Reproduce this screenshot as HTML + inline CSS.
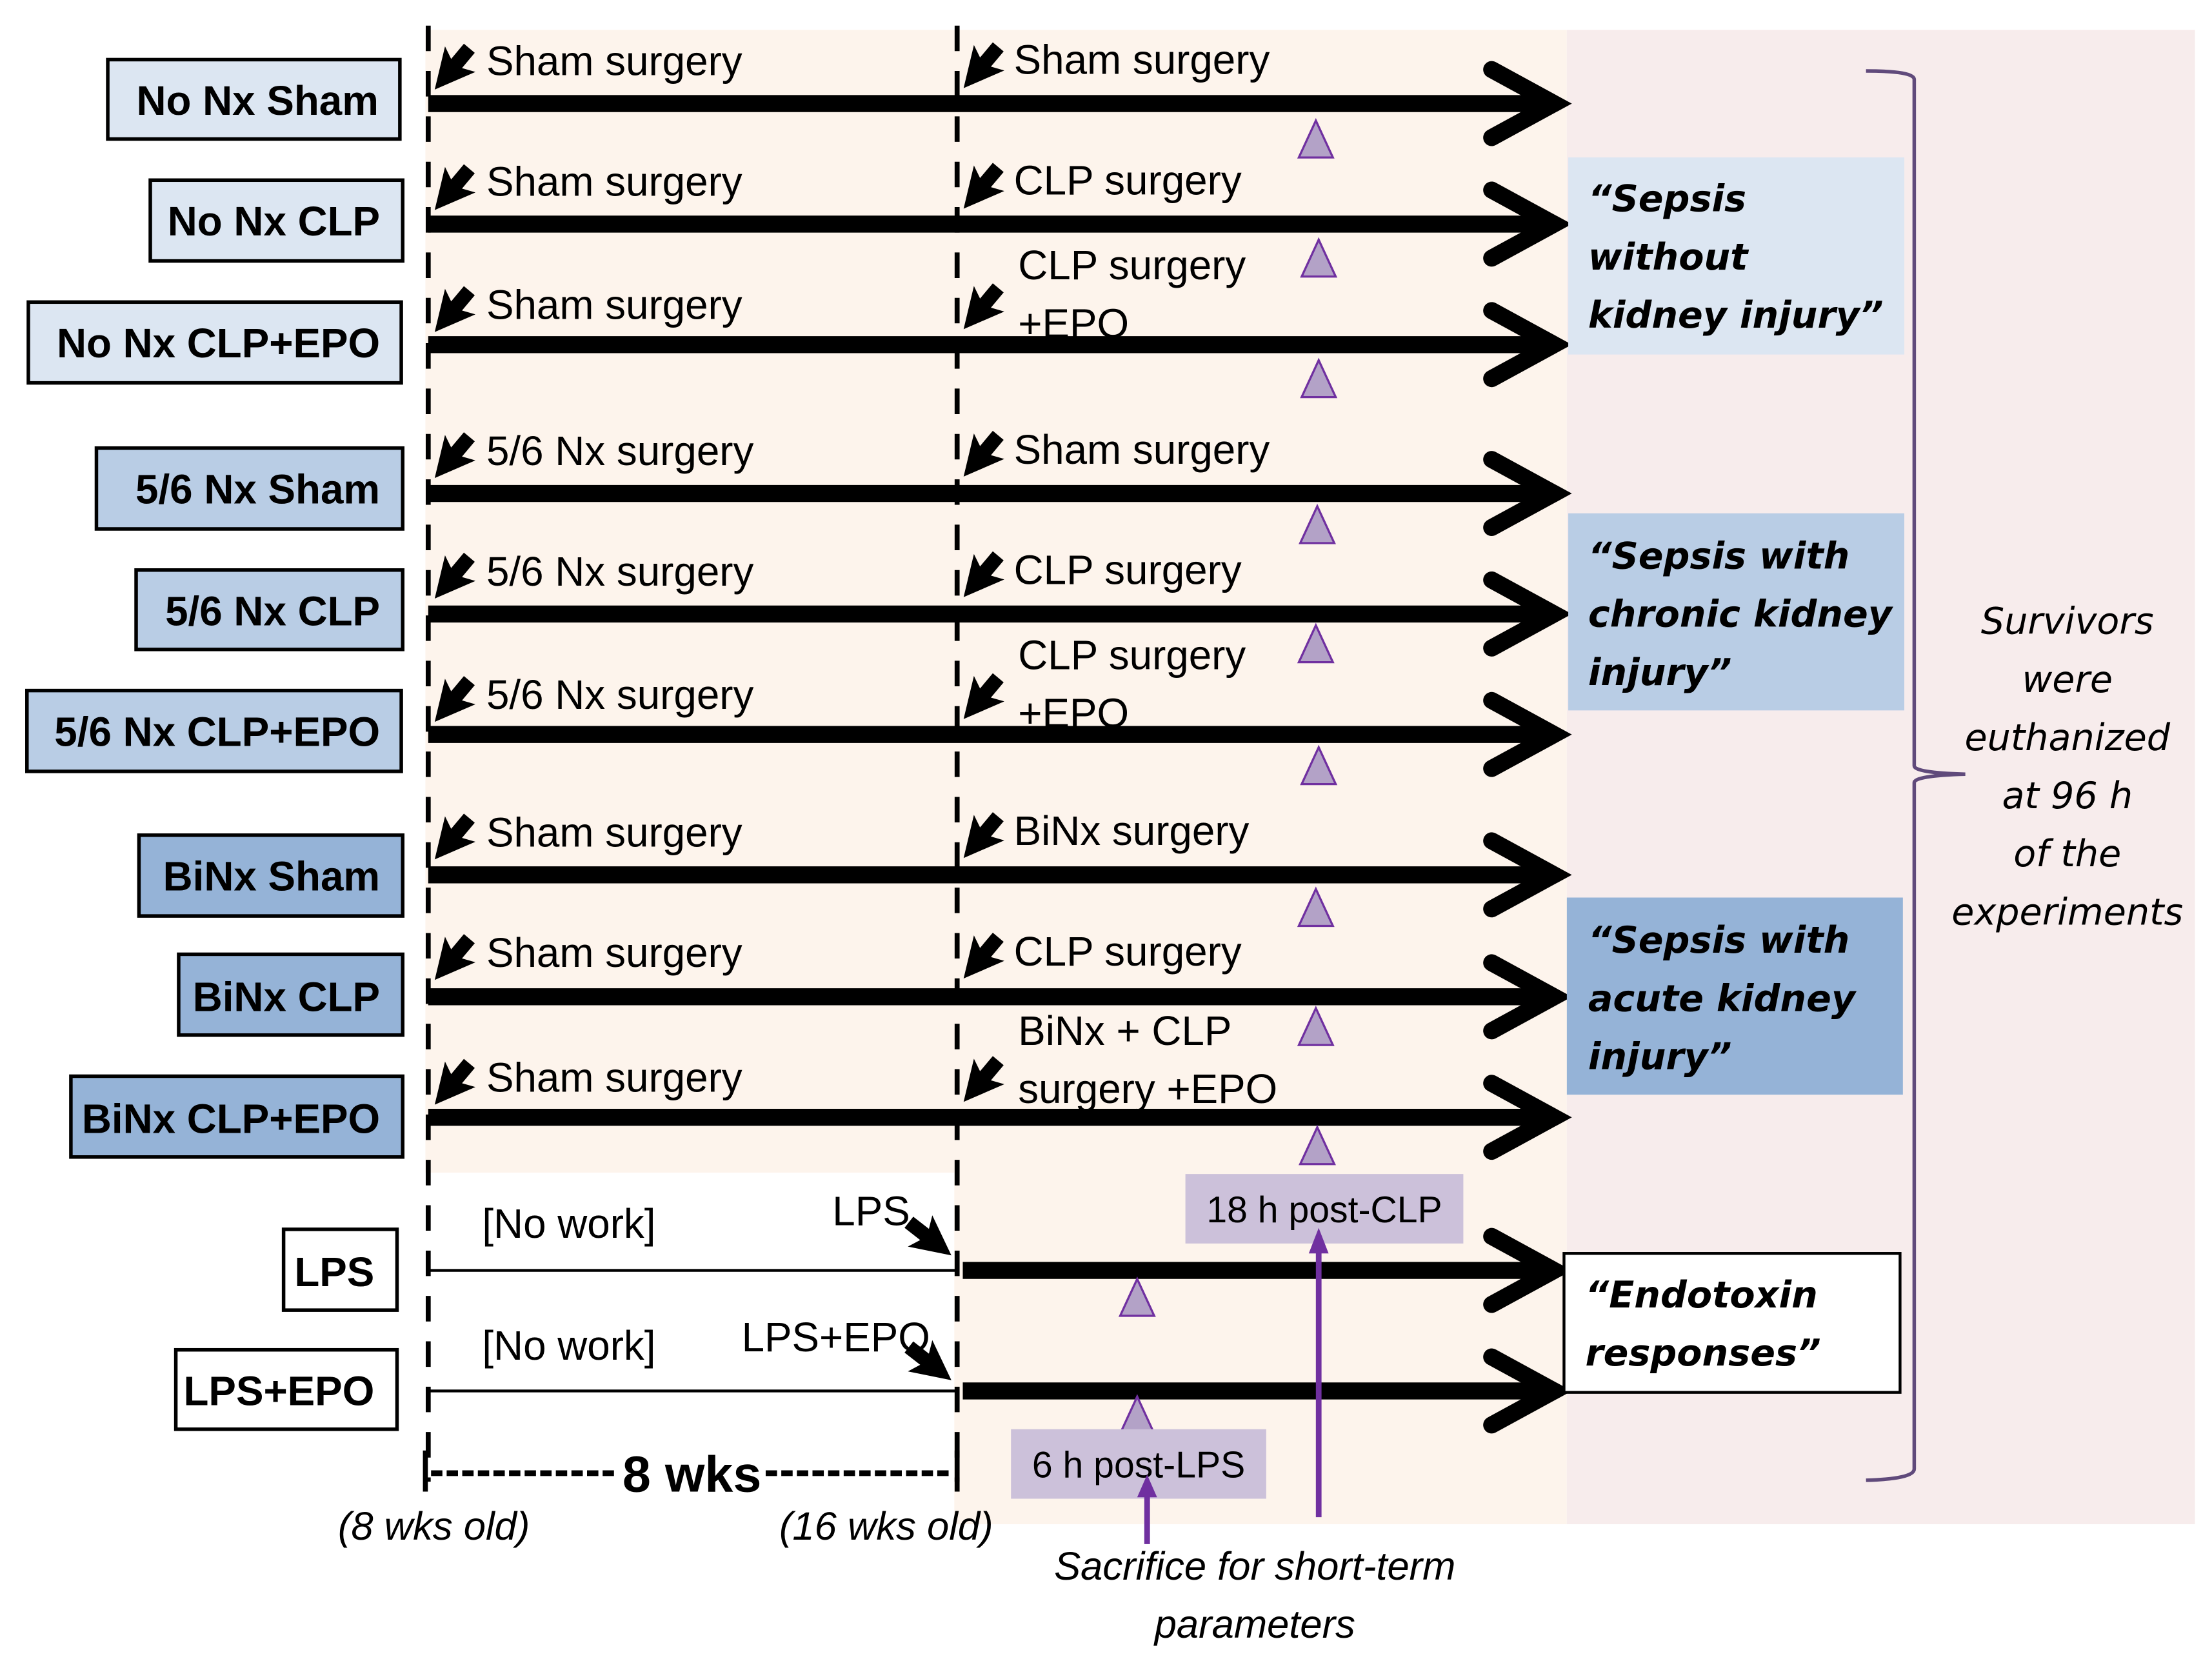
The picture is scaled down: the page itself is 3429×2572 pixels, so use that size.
<!DOCTYPE html>
<html><head><meta charset="utf-8"><style>
html,body{margin:0;padding:0;background:#fff;}
svg{display:block;}
.t{font-family:"Liberation Sans",sans-serif;font-size:29px;fill:#000;}
.b{font-family:"Liberation Sans",sans-serif;font-size:29px;font-weight:bold;fill:#000;}
.r{font-family:"DejaVu Sans",sans-serif;font-size:26px;font-weight:bold;font-style:italic;fill:#000;}
.s{font-family:"DejaVu Sans",sans-serif;font-size:26px;font-style:italic;fill:#000;}
.i{font-family:"Liberation Sans",sans-serif;font-size:28px;font-style:italic;fill:#000;}
</style></head><body>
<svg width="3429" height="2572" viewBox="0 0 1560 1170" xmlns="http://www.w3.org/2000/svg">
<defs>
<polygon id="sa" points="0,-5 14,-5 10,-14 38,0 10,14 14,5 0,5"/>
<polygon id="tri" points="0,-13 -12,13 12,13" fill="#b3a2c7" stroke="#7030a0" stroke-width="1.5"/>
<g id="ah"><polyline points="1052,-24 1096,0 1052,24" fill="none" stroke="#000" stroke-width="12" stroke-linecap="round" stroke-linejoin="miter"/></g>
</defs>
<rect x="300" y="21" width="805" height="806" fill="#fdf4ec"/>
<rect x="673" y="826" width="432" height="249" fill="#fdf4ec"/>
<rect x="1105" y="21" width="443" height="1054" fill="#f7ecec"/>
<line x1="302" y1="18" x2="302" y2="1045" stroke="#000" stroke-width="3.5" stroke-dasharray="18,14"/>
<line x1="675" y1="18" x2="675" y2="1045" stroke="#000" stroke-width="3.5" stroke-dasharray="18,14"/>
<g stroke="#000" stroke-width="12">
<line x1="302" y1="73" x2="1092" y2="73"/>
<line x1="302" y1="158" x2="1092" y2="158"/>
<line x1="302" y1="243" x2="1092" y2="243"/>
<line x1="302" y1="348" x2="1092" y2="348"/>
<line x1="302" y1="433" x2="1092" y2="433"/>
<line x1="302" y1="518" x2="1092" y2="518"/>
<line x1="302" y1="617" x2="1092" y2="617"/>
<line x1="302" y1="703" x2="1092" y2="703"/>
<line x1="302" y1="788" x2="1092" y2="788"/>
<line x1="679" y1="896" x2="1092" y2="896"/>
<line x1="679" y1="981" x2="1092" y2="981"/>
</g>
<g stroke="#000" stroke-width="2"><line x1="302" y1="896" x2="675" y2="896"/><line x1="302" y1="981" x2="675" y2="981"/></g>
<use href="#ah" transform="translate(0,73)"/><use href="#ah" transform="translate(0,158)"/><use href="#ah" transform="translate(0,243)"/>
<use href="#ah" transform="translate(0,348)"/><use href="#ah" transform="translate(0,433)"/><use href="#ah" transform="translate(0,518)"/>
<use href="#ah" transform="translate(0,617)"/><use href="#ah" transform="translate(0,703)"/><use href="#ah" transform="translate(0,788)"/>
<use href="#ah" transform="translate(0,896)"/><use href="#ah" transform="translate(0,981)"/>
<g fill="#000">
<use href="#sa" transform="translate(331,34) rotate(130)"/><use href="#sa" transform="translate(704,33) rotate(130)"/>
<use href="#sa" transform="translate(331,119) rotate(130)"/><use href="#sa" transform="translate(704,118) rotate(130)"/>
<use href="#sa" transform="translate(331,205) rotate(130)"/><use href="#sa" transform="translate(704,203) rotate(130)"/>
<use href="#sa" transform="translate(331,308) rotate(130)"/><use href="#sa" transform="translate(704,307) rotate(130)"/>
<use href="#sa" transform="translate(331,393) rotate(130)"/><use href="#sa" transform="translate(704,392) rotate(130)"/>
<use href="#sa" transform="translate(331,480) rotate(130)"/><use href="#sa" transform="translate(704,478) rotate(130)"/>
<use href="#sa" transform="translate(331,577) rotate(130)"/><use href="#sa" transform="translate(704,576) rotate(130)"/>
<use href="#sa" transform="translate(331,662) rotate(130)"/><use href="#sa" transform="translate(704,661) rotate(130)"/>
<use href="#sa" transform="translate(331,750) rotate(130)"/><use href="#sa" transform="translate(704,748) rotate(130)"/>
<use href="#sa" transform="translate(641,862) rotate(38)"/><use href="#sa" transform="translate(641,950) rotate(38)"/>
</g>
<g stroke="#000" stroke-width="2.5">
<rect x="76" y="42" width="206" height="56" fill="#dce6f2"/>
<rect x="106" y="127" width="178" height="57" fill="#dce6f2"/>
<rect x="20" y="213" width="263" height="57" fill="#dce6f2"/>
<rect x="68" y="316" width="216" height="57" fill="#b9cde5"/>
<rect x="96" y="402" width="188" height="56" fill="#b9cde5"/>
<rect x="19" y="487" width="264" height="57" fill="#b9cde5"/>
<rect x="98" y="589" width="186" height="57" fill="#95b3d7"/>
<rect x="126" y="673" width="158" height="57" fill="#95b3d7"/>
<rect x="50" y="759" width="234" height="57" fill="#95b3d7"/>
<rect x="200" y="867" width="80" height="57" fill="#fff"/>
<rect x="124" y="952" width="156" height="56" fill="#fff"/>
</g>
<g class="b" text-anchor="end">
<text x="267" y="81">No Nx Sham</text>
<text x="268" y="166">No Nx CLP</text>
<text x="268" y="252">No Nx CLP+EPO</text>
<text x="268" y="355">5/6 Nx Sham</text>
<text x="268" y="441">5/6 Nx CLP</text>
<text x="268" y="526">5/6 Nx CLP+EPO</text>
<text x="268" y="628">BiNx Sham</text>
<text x="268" y="713">BiNx CLP</text>
<text x="268" y="799">BiNx CLP+EPO</text>
<text x="264" y="907">LPS</text>
<text x="264" y="991">LPS+EPO</text>
</g>
<g class="t">
<text x="343" y="53">Sham surgery</text><text x="715" y="52">Sham surgery</text>
<text x="343" y="138">Sham surgery</text><text x="715" y="137">CLP surgery</text>
<text x="343" y="225">Sham surgery</text><text x="718" y="197">CLP surgery</text><text x="718" y="238">+EPO</text>
<text x="343" y="328">5/6 Nx surgery</text><text x="715" y="327">Sham surgery</text>
<text x="343" y="413">5/6 Nx surgery</text><text x="715" y="412">CLP surgery</text>
<text x="343" y="500">5/6 Nx surgery</text><text x="718" y="472">CLP surgery</text><text x="718" y="513">+EPO</text>
<text x="343" y="597">Sham surgery</text><text x="715" y="596">BiNx surgery</text>
<text x="343" y="682">Sham surgery</text><text x="715" y="681">CLP surgery</text>
<text x="343" y="770">Sham surgery</text><text x="718" y="737">BiNx + CLP</text><text x="718" y="778">surgery +EPO</text>
<text x="340" y="873">[No work]</text><text x="587" y="864">LPS</text>
<text x="340" y="959">[No work]</text><text x="523" y="953">LPS+EPO</text>
</g>
<use href="#tri" transform="translate(928,98)"/><use href="#tri" transform="translate(930,182)"/><use href="#tri" transform="translate(930,267)"/>
<use href="#tri" transform="translate(929,370)"/><use href="#tri" transform="translate(928,454)"/><use href="#tri" transform="translate(930,540)"/>
<use href="#tri" transform="translate(928,640)"/><use href="#tri" transform="translate(928,724)"/><use href="#tri" transform="translate(929,808)"/>
<use href="#tri" transform="translate(802,915)"/><use href="#tri" transform="translate(802,998)"/>
<rect x="836" y="828" width="196" height="49" fill="#ccc1da"/>
<text x="934" y="862" text-anchor="middle" style="font-family:'Liberation Sans',sans-serif;font-size:26px">18 h post-CLP</text>
<rect x="713" y="1008" width="180" height="49" fill="#ccc1da"/>
<text x="803" y="1042" text-anchor="middle" style="font-family:'Liberation Sans',sans-serif;font-size:26px">6 h post-LPS</text>
<g stroke="#7030a0" stroke-width="4"><line x1="930" y1="1070" x2="930" y2="880"/><line x1="809" y1="1089" x2="809" y2="1052"/></g>
<polygon points="930,866 923,884 937,884" fill="#7030a0"/>
<polygon points="809,1040 802,1056 816,1056" fill="#7030a0"/>
<rect x="1106" y="111" width="237" height="139" fill="#dce6f2"/>
<g class="r"><text x="1120" y="149">“Sepsis</text><text x="1120" y="190">without</text><text x="1120" y="231">kidney injury”</text></g>
<rect x="1106" y="362" width="237" height="139" fill="#b9cde5"/>
<g class="r"><text x="1120" y="401">“Sepsis with</text><text x="1120" y="442">chronic kidney</text><text x="1120" y="483">injury”</text></g>
<rect x="1105" y="633" width="237" height="139" fill="#95b3d7"/>
<g class="r"><text x="1120" y="672">“Sepsis with</text><text x="1120" y="713">acute kidney</text><text x="1120" y="754">injury”</text></g>
<rect x="1103" y="884" width="237" height="98" fill="#fff" stroke="#000" stroke-width="2"/>
<g class="r"><text x="1118" y="922">“Endotoxin</text><text x="1118" y="963">responses”</text></g>
<path d="M1316,50 Q1350,50 1350,56 L1350,540 Q1350,545 1386,546 Q1350,547 1350,552 L1350,1036 Q1350,1043 1316,1044" fill="none" stroke="#604a7b" stroke-width="2.5"/>
<g class="s" text-anchor="middle">
<text x="1458" y="447">Survivors</text><text x="1458" y="488">were</text><text x="1458" y="529">euthanized</text>
<text x="1458" y="570">at  96 h</text><text x="1458" y="611">of the</text><text x="1458" y="652">experiments</text>
</g>
<line x1="300" y1="1023" x2="300" y2="1052" stroke="#000" stroke-width="3.5"/>
<line x1="675" y1="1023" x2="675" y2="1052" stroke="#000" stroke-width="3.5"/>
<line x1="304" y1="1039" x2="436" y2="1039" stroke="#000" stroke-width="4" stroke-dasharray="8,3"/>
<line x1="540" y1="1039" x2="672" y2="1039" stroke="#000" stroke-width="4" stroke-dasharray="8,3"/>
<text x="488" y="1052" text-anchor="middle" style="font-family:'Liberation Sans',sans-serif;font-weight:bold;font-size:36px">8 wks</text>
<text class="i" x="306" y="1086" text-anchor="middle">(8 wks old)</text>
<text class="i" x="625" y="1086" text-anchor="middle">(16 wks old)</text>
<text class="i" x="885" y="1114" text-anchor="middle">Sacrifice for short-term</text>
<text class="i" x="885" y="1155" text-anchor="middle">parameters</text>
</svg>
</body></html>
